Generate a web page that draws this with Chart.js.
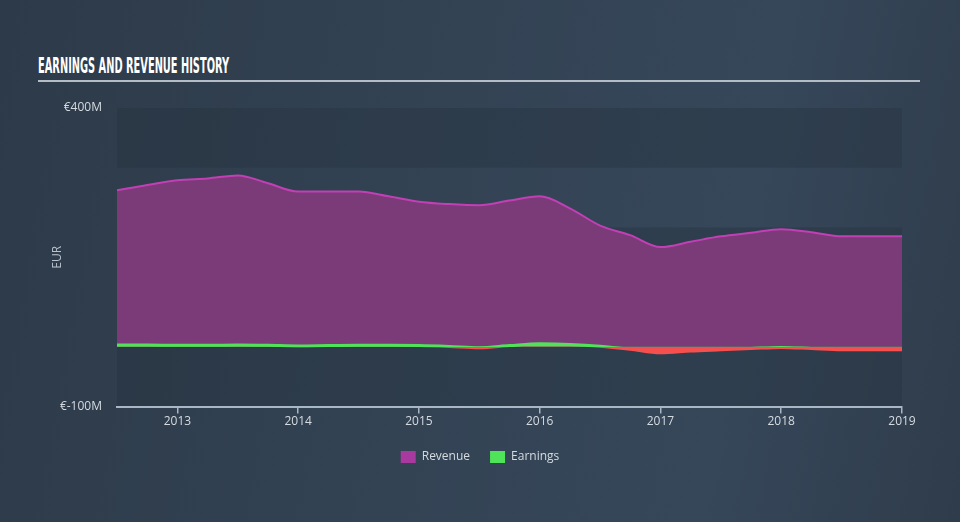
<!DOCTYPE html>
<html>
<head>
<meta charset="utf-8">
<script src="https://cdn.jsdelivr.net/npm/chart.js@4.4.0/dist/chart.umd.min.js"></script>
<style>
  html, body { margin: 0; padding: 0; }
  body {
    width: 960px;
    height: 522px;
    overflow: hidden;
    position: relative;
    background: linear-gradient(100deg, #2d3a49 0%, #334354 45%, #36475a 75%, #2f3c4b 100%);
  }
  #title {
    position: absolute;
    left: 38px;
    top: 53px;
    margin: 0;
    font: bold 21px 'Liberation Sans Narrow', 'DejaVu Sans Condensed', sans-serif;
    line-height: 26px;
    color: #ffffff;
    white-space: nowrap;
    transform-origin: 0 0;
  }
  #rule {
    position: absolute;
    left: 38px;
    top: 80px;
    width: 882px;
    height: 2px;
    background: #b4bcc5;
  }
  #chart { position: absolute; left: 0; top: 0; }
</style>
</head>
<body>
<h1 id="title">EARNINGS AND REVENUE HISTORY</h1>
<div id="rule"></div>
<canvas id="chart" width="960" height="522"></canvas>
<script>
  // quarterly points, fractional years
  const periods = [
    2012.5, 2012.75, 2013, 2013.25, 2013.5, 2013.75, 2014, 2014.25, 2014.5,
    2014.75, 2015, 2015.25, 2015.5, 2015.75, 2016, 2016.25, 2016.5, 2016.75,
    2017, 2017.25, 2017.5, 2017.75, 2018, 2018.25, 2018.5, 2018.75, 2019,
  ];
  // EUR millions
  const revenue = [
    262, 271, 279, 282, 287, 274, 260, 260, 260, 252, 243, 239, 237, 245,
    252, 232, 203, 187, 167, 176, 185, 191, 197, 192, 185, 185, 185,
  ];
  const earnings = [
    3, 3, 2.5, 2.5, 3, 2.5, 1.5, 2, 2.5, 2.5, 2, 0.5, -1.5, 2, 5, 4, 1, -4,
    -10, -7, -5, -3, -1, -3, -5, -5, -5,
  ];
  const xTickYears = [2013, 2014, 2015, 2016, 2017, 2018, 2019];
  const yTickValues = [-100, 400];
  const darkBands = [[300, 400], [100, 200], [-100, 0]];
  const seriesNames = ['Revenue', 'Earnings'];
  const legendColors = ['#a8399f', '#4fe35a'];

  // fit the condensed title to its width in the reference
  const title = document.getElementById('title');
  title.style.transform = 'scaleX(' + (191 / title.offsetWidth) + ')';

  const toPoints = function (values) {
    return periods.map(function (p, i) {
      return { x: p, y: values[i] };
    });
  };

  const bandsPlugin = {
    id: 'bands',
    beforeDraw: function (chart) {
      const ctx = chart.ctx;
      const area = chart.chartArea;
      const y = chart.scales.y;
      ctx.save();
      ctx.fillStyle = 'rgba(38, 50, 63, 0.4)';
      darkBands.forEach(function (b) {
        const top = y.getPixelForValue(b[1]);
        const bottom = y.getPixelForValue(b[0]);
        ctx.fillRect(area.left, top, area.right - area.left, bottom - top);
      });
      ctx.restore();
    },
  };

  /* legend is centred on the whole canvas, not on the padded box */
  const legendCenterPlugin = {
    id: 'legendCenter',
    afterLayout: function (chart) {
      const legend = chart.legend;
      if (!legend) {
        return;
      }
      const shift = chart.options.layout.padding.right / 2;
      legend.left += shift;
      legend.right += shift;
    },
  };

  const earningsStroke = function (context) {
    const chart = context.chart;
    const area = chart.chartArea;
    if (!area || !chart.scales.y) {
      return '#4fe35a';
    }
    const zero = chart.scales.y.getPixelForValue(0);
    const stop = (zero - area.top) / (area.bottom - area.top);
    if (!isFinite(stop)) {
      return '#4fe35a';
    }
    const s = Math.min(Math.max(stop, 0), 1);
    const g = chart.ctx.createLinearGradient(0, area.top, 0, area.bottom);
    g.addColorStop(0, '#4fe35a');
    g.addColorStop(s, '#4fe35a');
    g.addColorStop(s, '#f64f4f');
    g.addColorStop(1, '#f64f4f');
    return g;
  };

  Chart.defaults.font.family = "'Open Sans', sans-serif";
  Chart.defaults.font.size = 12;
  Chart.defaults.color = '#d5dbe1';

  new Chart(document.getElementById('chart'), {
    type: 'line',
    data: {
      datasets: [
        {
          label: seriesNames[0],
          data: toPoints(revenue),
          borderColor: '#c23fb5',
          backgroundColor: '#7b3a78',
          borderWidth: 2,
          fill: 'origin',
          pointRadius: 0,
          cubicInterpolationMode: 'monotone',
          order: 1,
        },
        {
          label: seriesNames[1],
          data: toPoints(earnings),
          borderColor: earningsStroke,
          backgroundColor: '#4fe35a',
          borderWidth: 3,
          fill: { target: 'origin', above: '#4fe35a', below: '#f64f4f' },
          pointRadius: 0,
          cubicInterpolationMode: 'monotone',
          order: 0,
        },
      ],
    },
    options: {
      responsive: false,
      animation: false,
      events: [],
      layout: { padding: { left: 0, right: 58, top: 108, bottom: 49 } },
      scales: {
        x: {
          type: 'linear',
          min: 2012.5,
          max: 2019,
          afterBuildTicks: function (scale) {
            scale.ticks = xTickYears.map(function (v) {
              return { value: v };
            });
          },
          afterFit: function (scale) {
            scale.height = 24.5;
          },
          border: { display: true, color: '#a9b6c4', width: 2 },
          grid: {
            drawOnChartArea: false,
            drawTicks: true,
            tickLength: 7,
            color: '#a9b6c4',
            lineWidth: 1.5,
          },
          ticks: {
            padding: 1,
            maxRotation: 0,
            autoSkip: false,
            callback: function (v) {
              return String(v);
            },
          },
        },
        y: {
          min: -100,
          max: 400,
          afterBuildTicks: function (scale) {
            scale.ticks = yTickValues.map(function (v) {
              return { value: v };
            });
          },
          afterFit: function (scale) {
            scale.width = 117;
          },
          border: { display: false },
          grid: { display: false, drawTicks: false, tickLength: 0 },
          ticks: {
            padding: 15,
            callback: function (v) {
              return '€' + v + 'M';
            },
          },
          title: {
            display: true,
            text: 'EUR',
            color: '#b9c2cc',
            font: { size: 12 },
            padding: { top: 50, bottom: 0 },
          },
        },
      },
      plugins: {
        tooltip: { enabled: false },
        legend: {
          position: 'bottom',
          labels: {
            boxWidth: 15,
            boxHeight: 12,
            padding: 20,
            color: '#d5dbe1',
            font: { size: 12 },
            sort: function (a, b) {
              return a.datasetIndex - b.datasetIndex;
            },
            generateLabels: function (chart) {
              const items = Chart.defaults.plugins.legend.labels.generateLabels(chart);
              items.forEach(function (item) {
                item.fillStyle = legendColors[item.datasetIndex];
                item.strokeStyle = legendColors[item.datasetIndex];
                item.lineWidth = 0;
              });
              return items;
            },
          },
        },
      },
    },
    plugins: [bandsPlugin, legendCenterPlugin],
  });
</script>
</body>
</html>
